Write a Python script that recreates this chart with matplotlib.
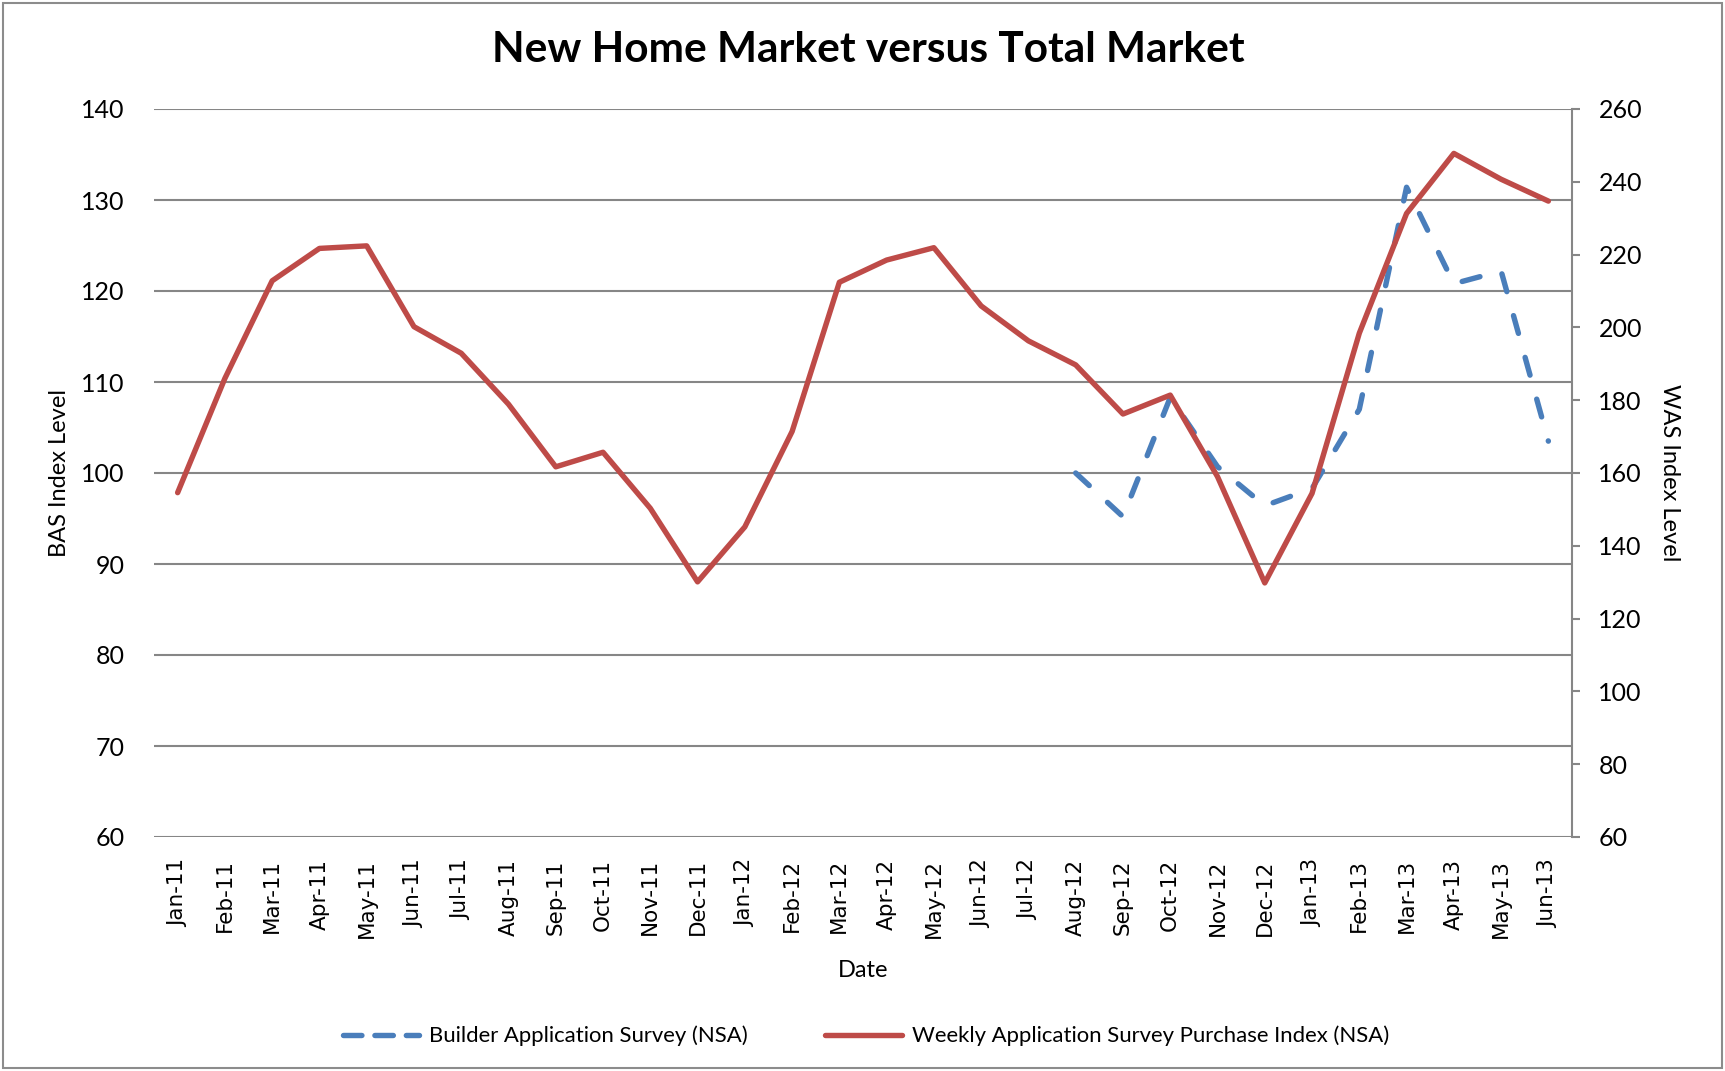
import matplotlib
matplotlib.use("Agg")
import matplotlib.pyplot as plt
from matplotlib.lines import Line2D
from matplotlib.patches import Rectangle

months = ["Jan-11", "Feb-11", "Mar-11", "Apr-11", "May-11", "Jun-11", "Jul-11", "Aug-11",
          "Sep-11", "Oct-11", "Nov-11", "Dec-11", "Jan-12", "Feb-12", "Mar-12", "Apr-12",
          "May-12", "Jun-12", "Jul-12", "Aug-12", "Sep-12", "Oct-12", "Nov-12", "Dec-12",
          "Jan-13", "Feb-13", "Mar-13", "Apr-13", "May-13", "Jun-13"]

# Weekly Application Survey Purchase Index (right axis)
was_values = [154.6, 186.0, 212.8, 221.7, 222.4, 200.2, 192.9, 178.9, 161.7, 165.7,
              150.3, 130.1, 145.2, 171.4, 212.4, 218.5, 221.9, 205.9, 196.3, 189.7,
              176.2, 181.4, 159.0, 129.8, 154.4, 198.4, 231.3, 247.8, 240.7, 234.7]

# Builder Application Survey (left axis), starts Aug-12
bas_months = ["Aug-12", "Sep-12", "Oct-12", "Nov-12", "Dec-12", "Jan-13", "Feb-13",
              "Mar-13", "Apr-13", "May-13", "Jun-13"]
bas_values = [100.0, 95.2, 108.3, 100.7, 96.4, 98.3, 107.0, 131.4, 120.8, 122.2, 103.5]

left_ticks = [60, 70, 80, 90, 100, 110, 120, 130, 140]
right_ticks = [60, 80, 100, 120, 140, 160, 180, 200, 220, 240, 260]

BLUE = "#4A7EBB"
RED = "#BE4B48"
GRID = "#868686"
FONT = "Lato"

W, H = 1725, 1071
fig = plt.figure(figsize=(W / 100, H / 100), dpi=100)
fig.patch.set_facecolor("white")
fig.patches.append(Rectangle((3 / W, 3 / H), (W - 6) / W, (H - 6) / H,
                             transform=fig.transFigure, fill=False,
                             edgecolor="#8C8C8C", linewidth=1.5))

left, right, top, bottom = 154, 1572, 109, 837
ax = fig.add_axes([left / W, 1 - bottom / H, (right - left) / W, (bottom - top) / H])
ax2 = ax.twinx()

x = list(range(len(months)))
bas_x = [months.index(m) for m in bas_months]

lw = 3.9
ax.plot(bas_x, bas_values, color=BLUE, linewidth=lw, dash_capstyle="round",
        linestyle=(0, (3.4, 4.6)), zorder=3)
ax2.plot(x, was_values, color=RED, linewidth=lw, solid_capstyle="round",
         solid_joinstyle="round", zorder=4)

ax.set_xlim(-0.5, len(months) - 0.5)
ax.set_ylim(60, 140)
ax2.set_ylim(60, 260)
ax.set_yticks(left_ticks)
ax2.set_yticks(right_ticks)
ax.yaxis.grid(True, color=GRID, linewidth=1.5)
ax.set_axisbelow(True)

for sp in ["top", "left", "bottom", "right"]:
    ax.spines[sp].set_visible(False)
for sp in ["top", "left", "bottom"]:
    ax2.spines[sp].set_visible(False)
ax2.spines["right"].set_color(GRID)
ax2.spines["right"].set_linewidth(1.5)

ax.set_xticks(x)
ax.set_xticklabels(months, rotation=90, fontsize=15.5, fontfamily="DejaVu Sans")
ax.tick_params(axis="x", length=0, pad=16)
ax.tick_params(axis="y", length=0, pad=21, labelsize=18)
for t in ax.get_yticklabels():
    t.set_fontfamily(FONT)
ax2.tick_params(axis="y", length=6, width=1.5, color=GRID, pad=13, labelsize=18,
                direction="out")
for t in ax2.get_yticklabels():
    t.set_fontfamily(FONT)

ax.set_ylabel("BAS Index Level", fontsize=17, fontfamily=FONT, labelpad=8)
ax2.set_ylabel("WAS Index Level", fontsize=17, fontfamily=FONT, rotation=-90,
               labelpad=12, va="bottom")
ax.set_xlabel("Date", fontsize=17, fontfamily=FONT, labelpad=16)

fig.text(868 / W, 1 - 50 / H, "New Home Market versus Total Market", ha="center",
         va="center", fontsize=30.5, fontweight="bold", fontfamily=FONT)

handles = [Line2D([], [], color=BLUE, linewidth=lw, linestyle=(0, (3.4, 2.4)),
                  dash_capstyle="round"),
           Line2D([], [], color=RED, linewidth=lw, solid_capstyle="round")]
fig.legend(handles, ["Builder Application Survey (NSA)",
                     "Weekly Application Survey Purchase Index (NSA)"],
           loc="center", bbox_to_anchor=(866 / W, 1 - 1036 / H), ncol=2,
           frameon=False, prop={"family": FONT, "size": 15.9}, handlelength=3.45,
           handletextpad=0.45, columnspacing=3.5)

fig.savefig("out.png", dpi=100, facecolor="white")
